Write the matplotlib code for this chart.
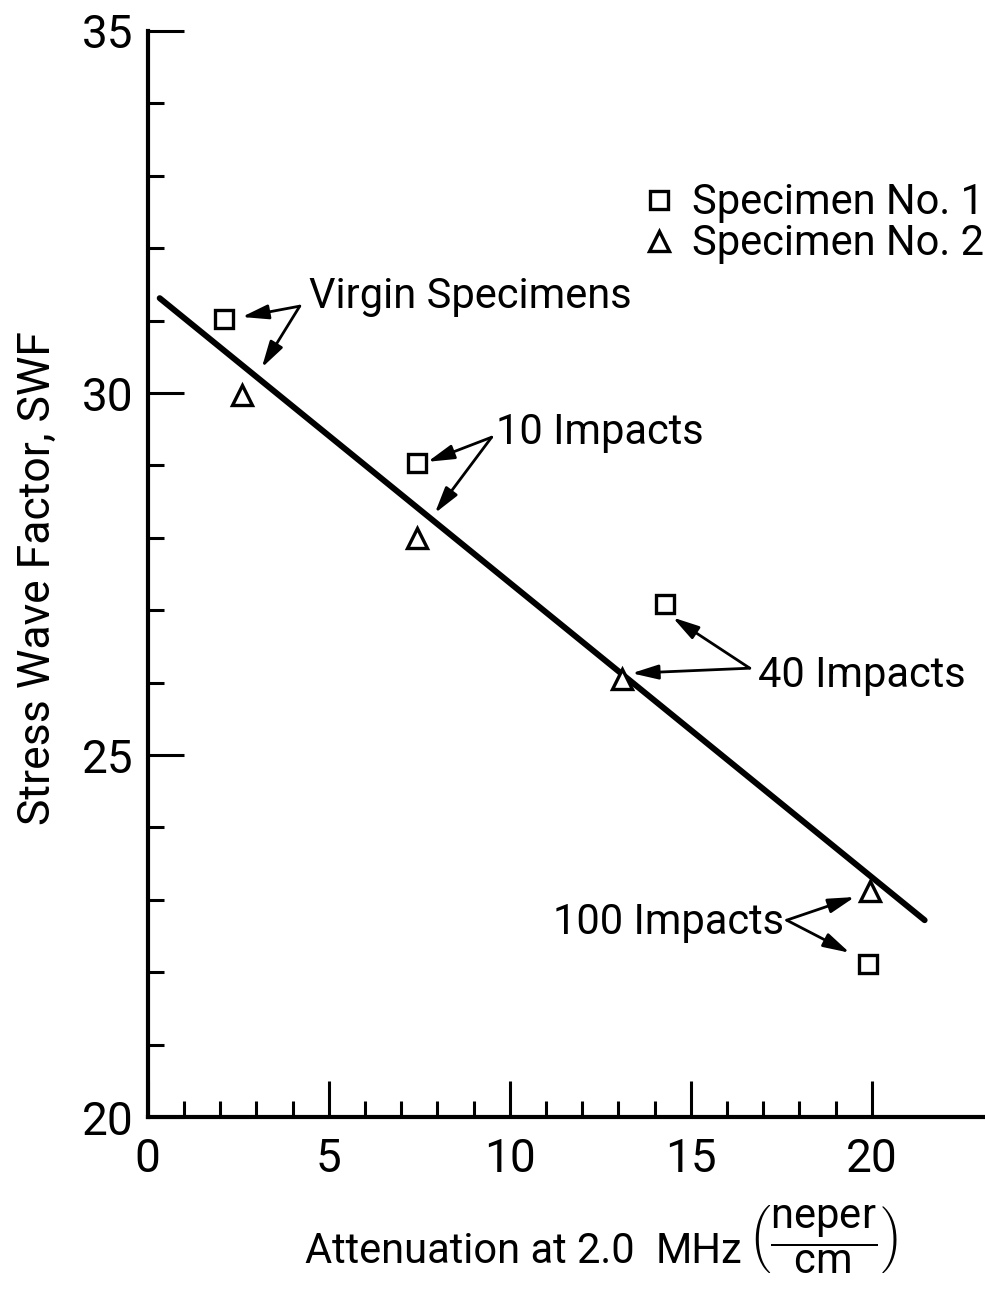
import matplotlib
matplotlib.use("Agg")
import matplotlib.pyplot as plt
from matplotlib.ticker import FixedLocator

FONT = ["Roboto", "DejaVu Sans"]
plt.rcParams['font.family'] = FONT
plt.rcParams['mathtext.fontset'] = 'custom'
plt.rcParams['mathtext.rm'] = 'Roboto'
plt.rcParams['mathtext.it'] = 'Roboto'

# ---- data ----
spec1_x = [2.1, 7.45, 14.3, 19.9]
spec1_y = [31.02, 29.03, 27.09, 22.11]
spec2_x = [2.6, 7.45, 13.1, 19.95]
spec2_y = [29.97, 28.0, 26.05, 23.12]
fit_x = [0.33, 21.46]
fit_y = [31.31, 22.72]

x_major = [0, 5, 10, 15, 20]
x_minor = [1, 2, 3, 4, 6, 7, 8, 9, 11, 12, 13, 14, 16, 17, 18, 19]
y_major = [20, 25, 30, 35]
y_minor = [21, 22, 23, 24, 26, 27, 28, 29, 31, 32, 33, 34]

labels = ["Virgin Specimens", "10 Impacts", "40 Impacts", "100 Impacts"]
label_xy = [(4.45, 31.33), (9.62, 29.46), (16.85, 26.1), (11.2, 22.69)]
arrow_from = [(4.2, 31.2), (9.5, 29.39), (16.63, 26.2), (17.65, 22.72)]
arrow_to = [[(2.6, 31.05), (3.15, 30.35)],
            [(7.73, 29.05), (7.93, 28.34)],
            [(14.5, 26.9), (13.37, 26.13)],
            [(19.53, 23.04), (19.39, 22.27)]]

fig = plt.figure(figsize=(9.85, 12.9), dpi=100)
ax = fig.add_axes([0.150, 0.134, 0.849, 0.842])

ax.plot(fit_x, fit_y, color='black', lw=4.3, solid_capstyle='round')
ax.plot(spec1_x, spec1_y, ls='none', marker='s', ms=13, mfc='white', mec='black', mew=2.4,
        label='Specimen No. 1')
ax.plot(spec2_x, spec2_y, ls='none', marker='^', ms=14, mfc='white', mec='black', mew=2.4,
        label='Specimen No. 2')

for txt, (tx, ty), (fx, fy), tips in zip(labels, label_xy, arrow_from, arrow_to):
    ax.text(tx, ty, txt, fontsize=30, ha='left', va='center')
    for (px, py) in tips:
        ax.annotate('', xy=(px, py), xytext=(fx, fy),
                    arrowprops=dict(arrowstyle='-|>,head_length=0.8,head_width=0.22',
                                    lw=2.0, color='black', mutation_scale=20,
                                    shrinkA=0, shrinkB=0))

ax.legend(loc='upper left', bbox_to_anchor=(0.561, 0.88), frameon=False, fontsize=30,
          handletextpad=0.3, labelspacing=0.0, handlelength=1.0, borderpad=0)

ax.set_xlim(0, 23.1)
ax.set_ylim(20, 35)
ax.spines['top'].set_visible(False)
ax.spines['right'].set_visible(False)
ax.spines['left'].set_linewidth(3)
ax.spines['bottom'].set_linewidth(3)

ax.xaxis.set_major_locator(FixedLocator(x_major))
ax.xaxis.set_minor_locator(FixedLocator(x_minor))
ax.yaxis.set_major_locator(FixedLocator(y_major))
ax.yaxis.set_minor_locator(FixedLocator(y_minor))
ax.set_xticklabels([str(v) for v in x_major])
ax.set_yticklabels([str(v) for v in y_major])
ax.tick_params(which='major', direction='in', length=26, width=2.2, labelsize=33)
ax.tick_params(which='minor', direction='in', length=11.5, width=2.2)
ax.tick_params(axis='x', which='major', pad=14)
ax.tick_params(axis='y', which='major', pad=10)

fig.text(38 / 985, 1 - 578 / 1290, "Stress Wave Factor, SWF", fontsize=32,
         rotation=90, ha='center', va='center')

fig.text(305 / 985, 1 - 1263 / 1290, "Attenuation at 2.0", fontsize=30,
         ha='left', va='baseline')
fig.text(742 / 985, 1 - 1263 / 1290, "MHz", fontsize=30,
         ha='right', va='baseline')
fig.text(748 / 985, 1 - 1240 / 1290, r"$\left(\dfrac{\mathrm{neper}}{\mathrm{cm}}\right)$",
         fontsize=30, ha='left', va='center')

fig.savefig("out.png", dpi=100)
